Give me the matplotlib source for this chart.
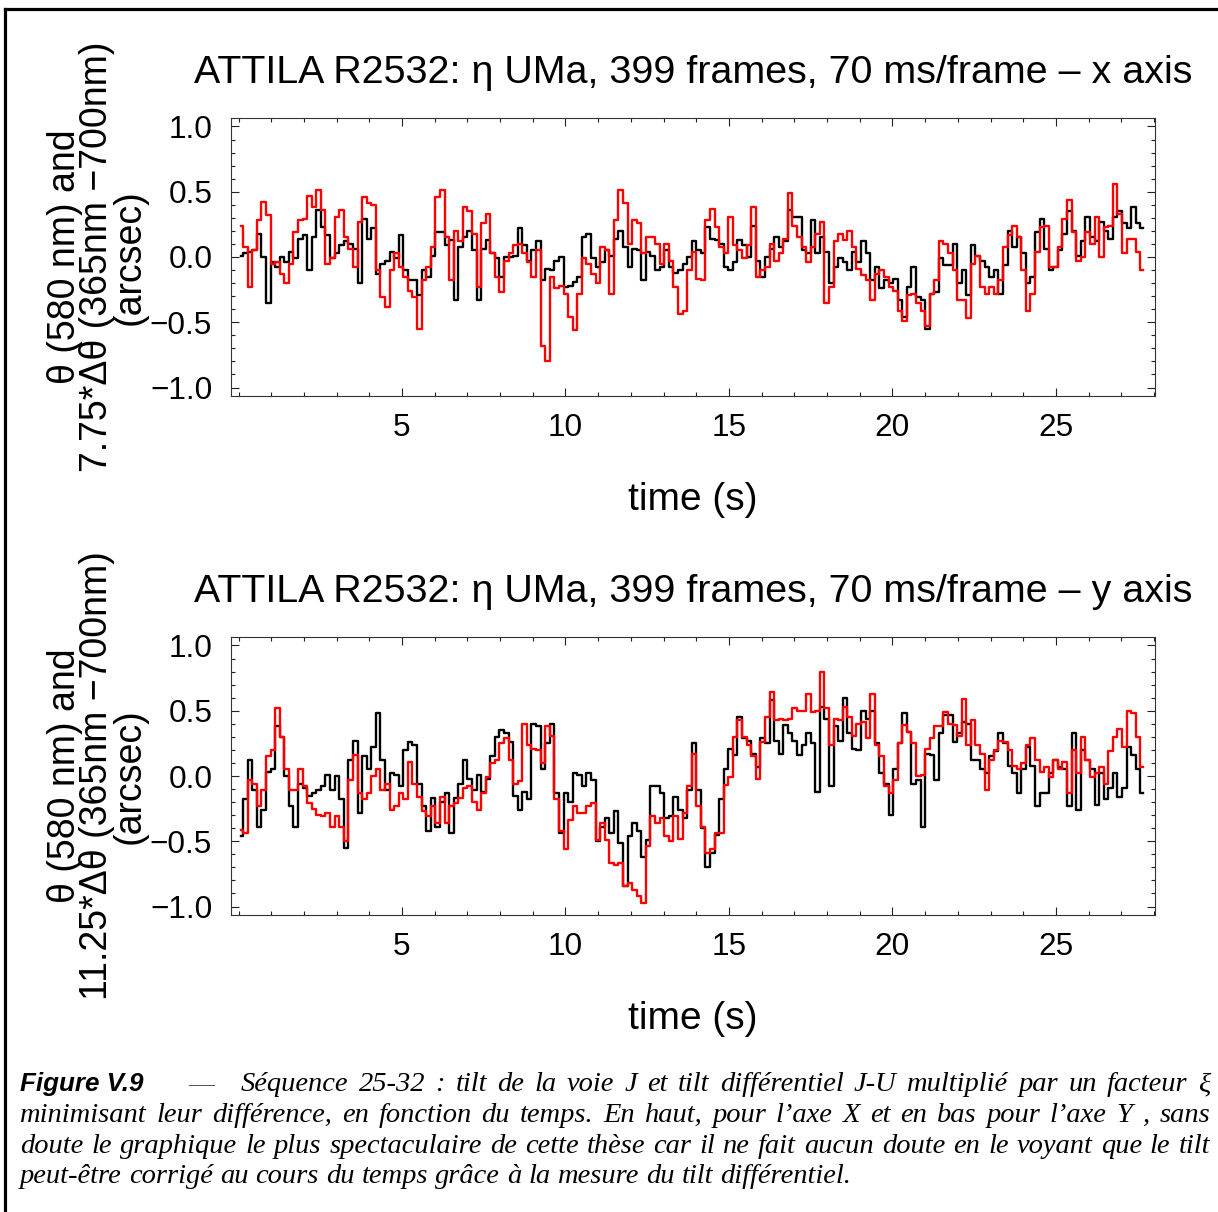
import numpy as np
import matplotlib
matplotlib.use("Agg")
import matplotlib.pyplot as plt
from matplotlib.ticker import MultipleLocator, FixedLocator
from matplotlib.lines import Line2D

# ---------------- data (every 2nd frame, 70 ms/frame) -------------
FRAME_DT = 0.07
N_STEP = 2

top_black = [
    0.01, 0.03, 0.04, 0.05, 0.18, 0.0, -0.35, -0.04, -0.08, 0.0,
    -0.04, 0.04, -0.01, 0.14, 0.17, -0.1, 0.15, 0.36, 0.23, 0.17,
    -0.01, 0.03, 0.09, 0.12, 0.1, 0.06, -0.2, 0.29, 0.14, 0.22,
    -0.13, -0.05, -0.03, 0.04, -0.01, 0.17, -0.1, -0.18, -0.18, -0.29,
    -0.1, -0.15, 0.01, 0.19, 0.19, 0.09, 0.13, -0.33, 0.08, 0.15,
    0.2, 0.05, -0.33, 0.06, 0.13, 0.03, -0.01, -0.15, 0.0, 0.0,
    0.01, 0.22, 0.09, -0.03, 0.05, 0.12, -0.18, -0.09, -0.1, -0.03,
    0.0, -0.23, -0.22, -0.19, -0.15, 0.15, 0.18, -0.01, -0.08, -0.04,
    0.05, 0.01, 0.14, 0.2, 0.08, -0.08, 0.06, 0.05, -0.18, 0.04,
    0.01, -0.1, -0.08, 0.05, -0.08, -0.12, -0.1, -0.05, 0.0, 0.12,
    0.05, 0.03, 0.23, 0.14, 0.13, 0.1, -0.08, -0.1, -0.04, 0.13,
    0.09, 0.0, 0.24, -0.03, -0.15, 0.0, 0.06, 0.15, 0.08, 0.12,
    0.36, 0.31, 0.31, 0.05, 0.03, 0.28, 0.03, 0.15, 0.04, -0.2,
    -0.08, -0.01, -0.04, -0.1, 0.04, -0.04, 0.12, 0.03, -0.18, -0.08,
    -0.24, -0.18, -0.2, -0.17, -0.33, -0.46, -0.23, -0.08, -0.31, -0.33,
    -0.55, -0.28, -0.27, -0.01, -0.06, -0.06, 0.1, -0.2, -0.1, -0.29,
    0.09, 0.01, -0.03, -0.08, -0.15, -0.1, -0.28, -0.06, 0.2, 0.08,
    0.15, 0.03, -0.2, -0.15, 0.19, 0.29, 0.06, -0.1, -0.08, 0.05,
    0.18, 0.35, 0.2, 0.01, 0.12, 0.31, 0.15, 0.12, 0.27, 0.2,
    0.14, 0.31, 0.35, 0.26, 0.22, 0.38, 0.26, 0.22,
]

top_red = [
    0.24, 0.08, -0.23, 0.05, 0.28, 0.42, 0.32, -0.05, -0.04, -0.13,
    -0.2, -0.05, 0.19, 0.28, 0.29, 0.47, 0.38, 0.51, 0.36, -0.05,
    -0.01, 0.31, 0.36, 0.15, 0.06, -0.08, 0.27, 0.46, 0.41, 0.40,
    -0.1, -0.31, -0.38, -0.1, 0.03, -0.08, -0.15, -0.26, -0.31, -0.55,
    -0.18, -0.08, 0.08, 0.46, 0.51, 0.15, -0.18, 0.2, 0.12, 0.38,
    0.35, 0.18, -0.23, 0.26, 0.33, 0.03, -0.15, -0.27, -0.03, 0.03,
    0.09, 0.1, 0.03, -0.04, -0.15, 0.05, -0.68, -0.8, -0.15, -0.24,
    -0.22, -0.28, -0.46, -0.56, -0.28, -0.01, -0.05, -0.13, -0.2, 0.08,
    0.05, -0.28, 0.28, 0.51, 0.41, 0.1, 0.28, 0.26, 0.03, 0.15,
    0.15, 0.1, -0.05, 0.1, -0.03, -0.23, -0.44, -0.41, -0.1, 0.04,
    -0.17, -0.18, 0.28, 0.37, 0.23, 0.08, 0.03, 0.31, 0.09, 0.05,
    -0.01, 0.09, 0.38, -0.15, -0.1, -0.08, 0.1, -0.03, 0.03, 0.14,
    0.49, 0.24, 0.15, 0.08, -0.04, 0.08, 0.18, 0.27, -0.35, -0.23,
    0.12, 0.18, 0.13, 0.2, 0.08, -0.09, -0.14, -0.18, -0.33, -0.13,
    -0.1, -0.15, -0.23, -0.26, -0.41, -0.49, -0.29, -0.28, -0.35, -0.41,
    -0.53, -0.28, -0.18, 0.12, 0.1, 0.03, -0.1, -0.33, -0.33, -0.47,
    -0.05, 0.01, -0.23, -0.28, -0.23, -0.28, -0.18, 0.08, 0.17, 0.24,
    0.15, -0.1, -0.41, -0.28, 0.04, 0.23, 0.24, -0.08, -0.08, 0.08,
    0.29, 0.44, 0.19, -0.03, 0.0, 0.19, 0.1, 0.31, 0.0, 0.23,
    0.24, 0.56, 0.33, 0.03, 0.14, 0.14, 0.04, -0.1,
]

bottom_black = [
    -0.46, -0.18, 0.12, -0.11, -0.39, -0.26, 0.03, 0.05, 0.38, 0.3,
    0.0, -0.23, -0.39, -0.06, -0.09, -0.15, -0.13, -0.11, -0.08, 0.01,
    -0.11, 0.0, -0.18, -0.55, 0.12, 0.27, -0.28, 0.15, 0.05, 0.22,
    0.48, 0.12, -0.11, 0.02, 0.01, -0.08, 0.2, 0.26, 0.24, -0.06,
    -0.23, -0.42, -0.17, -0.39, -0.2, -0.13, -0.44, -0.17, -0.06, 0.12,
    -0.02, -0.11, 0.01, -0.12, -0.02, 0.15, 0.3, 0.35, 0.33, 0.26,
    -0.15, -0.26, -0.12, -0.18, 0.4, 0.38, 0.05, 0.25, 0.4, -0.13,
    -0.44, -0.13, -0.2, 0.02, 0.01, -0.08, 0.02, -0.03, -0.5, -0.39,
    -0.32, -0.44, -0.27, -0.51, -0.84, -0.46, -0.36, -0.42, -0.62, -0.49,
    -0.08, -0.08, -0.13, -0.32, -0.31, -0.16, -0.26, -0.32, -0.11, 0.25,
    -0.11, -0.4, -0.7, -0.59, -0.45, -0.18, 0.05, 0.21, 0.16, 0.45,
    0.29, 0.27, 0.17, 0.07, 0.29, 0.25, 0.58, 0.27, 0.17, 0.39,
    0.33, 0.27, 0.16, 0.24, 0.33, 0.25, -0.12, 0.53, 0.44, -0.08,
    0.38, 0.27, 0.6, 0.33, 0.21, 0.2, 0.5, 0.44, 0.5, 0.25,
    0.02, -0.06, -0.3, 0.05, 0.25, 0.48, 0.34, -0.06, -0.03, -0.39,
    0.17, 0.16, -0.03, 0.33, 0.47, 0.47, 0.26, 0.33, 0.41, 0.4,
    0.12, 0.12, 0.05, 0.02, 0.15, 0.19, 0.33, 0.25, 0.08, 0.02,
    -0.13, 0.05, 0.22, 0.08, -0.23, -0.13, -0.13, 0.02, 0.12, 0.07,
    0.05, -0.23, 0.33, -0.26, 0.2, 0.12, 0.05, -0.22, 0.02, -0.18,
    -0.09, 0.02, -0.16, -0.09, 0.22, 0.16, 0.05, -0.13,
]

bottom_red = [
    -0.41, -0.44, -0.03, -0.06, -0.23, -0.11, 0.15, 0.2, 0.52, 0.3,
    0.05, -0.11, -0.11, 0.05, -0.08, -0.21, -0.25, -0.3, -0.31, -0.28,
    -0.39, -0.31, -0.39, -0.5, -0.03, 0.16, -0.13, -0.18, -0.13, 0.0,
    0.05, -0.11, -0.06, -0.26, -0.23, -0.13, -0.18, 0.11, -0.06, -0.16,
    -0.27, -0.31, -0.23, -0.36, -0.16, -0.36, -0.23, -0.21, -0.17, -0.09,
    -0.08, -0.2, -0.26, -0.13, -0.01, 0.1, 0.12, 0.25, 0.29, 0.12,
    -0.06, -0.04, 0.4, 0.24, 0.21, 0.2, 0.1, 0.38, 0.31, -0.18,
    -0.42, -0.56, -0.34, -0.23, -0.28, -0.28, -0.23, -0.21, -0.49, -0.36,
    -0.49, -0.67, -0.68, -0.67, -0.84, -0.82, -0.87, -0.92, -0.97, -0.54,
    -0.31, -0.36, -0.32, -0.46, -0.5, -0.31, -0.48, -0.28, -0.08, 0.17,
    -0.23, -0.39, -0.59, -0.56, -0.44, -0.44, -0.07, -0.01, 0.3, 0.43,
    0.3, 0.24, 0.15, -0.02, 0.26, 0.45, 0.64, 0.43, 0.44, 0.43,
    0.44, 0.52, 0.5, 0.5, 0.63, 0.49, 0.5, 0.8, 0.52, 0.24,
    0.44, 0.43, 0.53, 0.45, 0.31, 0.4, 0.41, 0.29, 0.63, 0.24,
    0.15, -0.08, -0.13, -0.03, 0.25, 0.39, 0.34, 0.25, 0.0, 0.01,
    0.21, 0.29, 0.38, 0.38, 0.49, 0.4, 0.39, 0.31, 0.59, 0.24,
    0.43, 0.24, 0.17, -0.11, 0.12, 0.2, 0.27, 0.26, 0.2, 0.08,
    0.05, 0.1, 0.24, 0.29, 0.12, 0.03, 0.07, -0.01, 0.12, 0.05,
    0.11, -0.13, 0.2, 0.02, 0.3, 0.12, -0.01, 0.02, 0.07, -0.06,
    0.19, 0.3, 0.36, 0.22, 0.5, 0.48, 0.3, 0.07,
]

x_tick_values = [5, 10, 15, 20, 25]
y_tick_values = [-1.0, -0.5, 0.0, 0.5, 1.0]
y_tick_labels = ["\u22121.0", "\u22120.5", "0.0", "0.5", "1.0"]

titles = ["ATTILA R2532: \u03b7 UMa, 399 frames, 70 ms/frame \u2013 x axis",
          "ATTILA R2532: \u03b7 UMa, 399 frames, 70 ms/frame \u2013 y axis"]
ylabels = ["\u03b8 (580 nm) and\n7.75*\u0394\u03b8 (365nm \u2212700nm)\n(arcsec)",
           "\u03b8 (580 nm) and\n11.25*\u0394\u03b8 (365nm \u2212700nm)\n(arcsec)"]
xlabel = "time (s)"

caption_head = "Figure V.9"
caption_lines = [
    "S\u00e9quence 25-32 : tilt de la voie J et tilt diff\u00e9rentiel J-U multipli\u00e9 par un facteur \u03be",
    "minimisant leur diff\u00e9rence, en fonction du temps. En haut, pour l\u2019axe X et en bas pour l\u2019axe Y , sans",
    "doute le graphique le plus spectaculaire de cette th\u00e8se car il ne fait aucun doute en le voyant que le tilt",
    "peut-\u00eatre corrig\u00e9 au cours du temps gr\u00e2ce \u00e0 la mesure du tilt diff\u00e9rentiel.",
]

# ---------------- figure ----------------
plt.rcParams["font.family"] = ["Liberation Sans", "DejaVu Sans"]
W, H = 1218, 1212
fig = plt.figure(figsize=(W / 100, H / 100), dpi=100)
fig.patch.set_facecolor("white")


def rect(l, t, r, b):
    return [l / W, 1 - b / H, (r - l) / W, (b - t) / H]


axes = [fig.add_axes(rect(231, 118, 1155, 396)), fig.add_axes(rect(231, 637, 1155, 915))]
series = [(top_black, top_red), (bottom_black, bottom_red)]

for ax, (blk, red), title, ylab in zip(axes, series, titles, ylabels):
    t_blk = FRAME_DT + FRAME_DT * N_STEP * np.arange(len(blk))
    t_red = FRAME_DT + FRAME_DT * N_STEP * np.arange(len(red))
    ax.step(t_blk, blk, where="mid", color="black", lw=1.7)
    ax.step(t_red, red, where="mid", color="#ff0000", lw=1.7)
    ax.set_xlim(-0.23, 28.03)
    ax.set_ylim(-1.065, 1.065)
    ax.xaxis.set_major_locator(FixedLocator(x_tick_values))
    ax.xaxis.set_minor_locator(MultipleLocator(1))
    ax.yaxis.set_major_locator(FixedLocator(y_tick_values))
    ax.set_yticklabels(y_tick_labels)
    ax.yaxis.set_minor_locator(MultipleLocator(0.1))
    ax.tick_params(which="both", direction="in", top=True, right=True, width=0.8, colors="#222222")
    ax.tick_params(which="major", length=6)
    ax.tick_params(which="minor", length=3)
    ax.tick_params(axis="x", which="major", labelsize=22.7, pad=12, labelcolor="black")
    ax.tick_params(axis="y", which="major", labelsize=22.7, pad=13.5, labelcolor="black")
    for s in ax.spines.values():
        s.set_linewidth(0.8)
        s.set_color("#333333")
    ax.set_title(title, fontsize=28.4, pad=25)
    ax.set_xlabel(xlabel, fontsize=28, labelpad=28)
    ax.set_ylabel(ylab, fontsize=27, linespacing=0.88)
    ax.yaxis.set_label_coords(-0.09, 0.5)

# border lines
fig.add_artist(Line2D([5 / W, 1.0], [1 - 9 / H, 1 - 9 / H], transform=fig.transFigure, color="black", lw=2.3))
fig.add_artist(Line2D([5 / W, 5 / W], [1 - 9 / H, 0.0], transform=fig.transFigure, color="black", lw=2.3))

# ---------------- caption ----------------
renderer = fig.canvas.get_renderer()
serif = dict(family=["Liberation Serif", "DejaVu Serif"], style="italic", size=20.5)
head = fig.text(20 / W, 1 - 1091 / H, caption_head, family=["Liberation Sans"], weight="bold",
                style="italic", size=18.7, va="baseline", ha="left")
fig.text(201 / W, 1 - 1090 / H, "\u2014", family=["Liberation Serif"], size=18.5, va="baseline",
         ha="center", color="#555555")


def place_line(text, x0, x1, ybase, justify):
    words = text.split(" ")
    arts = [fig.text(0, 1 - ybase / H, w, va="baseline", ha="left", **serif) for w in words]
    widths = [a.get_window_extent(renderer).width for a in arts]
    if justify and len(words) > 1:
        gap = (x1 - x0 - sum(widths)) / (len(words) - 1)
    else:
        gap = 0.25 * serif["size"] * 100 / 72
    x = x0
    for a, w in zip(arts, widths):
        a.set_x(x / W)
        x += w + gap


bases = [1091, 1122, 1153, 1183]
starts = [241, 20, 20, 20]
for i, (line, yb, xs) in enumerate(zip(caption_lines, bases, starts)):
    place_line(line, xs, 1210, yb, justify=(i < 3))

fig.savefig("out.png", dpi=100, facecolor="white")
